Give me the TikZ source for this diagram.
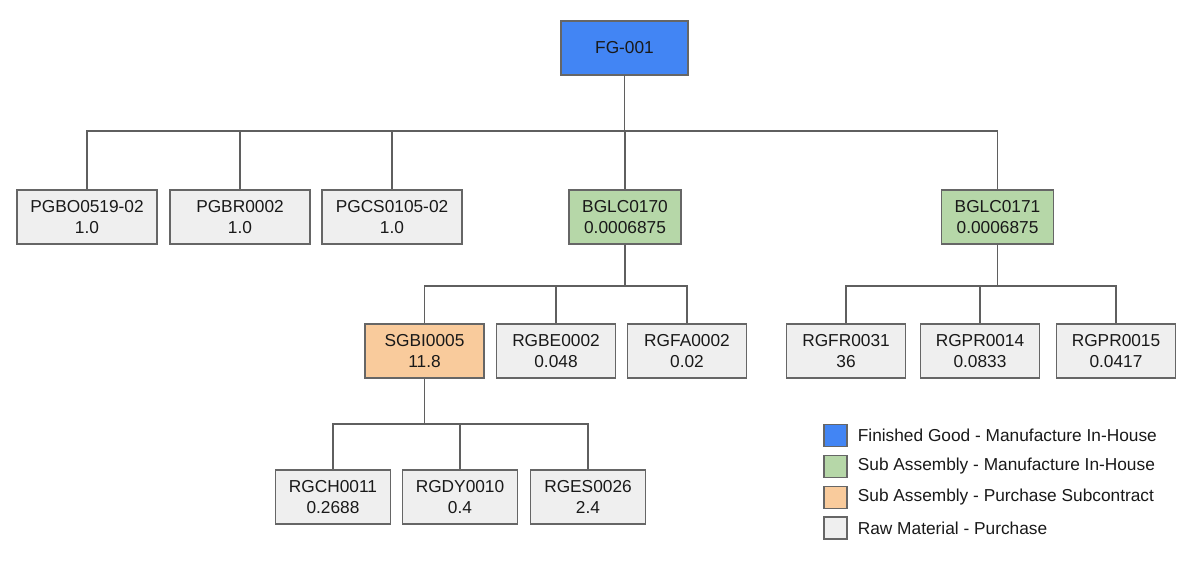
\documentclass[tikz,border=0pt]{standalone}
\usepackage{fontspec}
\setmainfont{Liberation Sans}
\usepackage{tikz}
\usetikzlibrary{positioning, calc}

\definecolor{fgblue}{HTML}{4285F4}
\definecolor{sagreen}{HTML}{B6D7A8}
\definecolor{scorange}{HTML}{F9CB9C}
\definecolor{rmgray}{HTML}{EFEFEF}
\definecolor{edgegray}{HTML}{666666}
\definecolor{linegray}{HTML}{5F5F5F}

\begin{document}
\begin{tikzpicture}[x=0.025cm, y=0.025cm,
    every node/.style={font=\fontsize{12.3}{14.5}\selectfont, text=black!90},
    part/.style={rectangle, draw=edgegray, line width=0.8pt, align=center,
                 minimum height=1.35cm, inner sep=0pt},
    fg/.style={part, fill=fgblue},
    subin/.style={part, fill=sagreen},
    subout/.style={part, fill=scorange},
    raw/.style={part, fill=rmgray},
    swatch/.style={rectangle, draw=edgegray, line width=0.8pt,
                   minimum width=0.575cm, minimum height=0.55cm, inner sep=0pt},
    link/.style={draw=linegray, line width=0.8pt}]
          \useasboundingbox (0,0) rectangle (1201,-563);

          % top level
          \node[fg, minimum width=3.175cm] (fg001) at (624.5,-48) {FG-001};

          % level 2
          \node[raw, minimum width=3.5cm] (pgbo) at (87,-217) {PGBO0519-02\\1.0};
          \node[raw, minimum width=3.5cm] (pgbr) at (240,-217) {PGBR0002\\1.0};
          \node[raw, minimum width=3.5cm] (pgcs) at (392,-217) {PGCS0105-02\\1.0};
          \node[subin, minimum width=2.8cm] (bglc0) at (625,-217) {BGLC0170\\0.0006875};
          \node[subin, minimum width=2.8cm] (bglc1) at (997.5,-217) {BGLC0171\\0.0006875};

          % level 3
          \node[subout, minimum width=2.975cm] (sgbi) at (424.5,-351) {SGBI0005\\11.8};
          \node[raw, minimum width=2.975cm] (rgbe) at (556,-351) {RGBE0002\\0.048};
          \node[raw, minimum width=2.975cm] (rgfa) at (687,-351) {RGFA0002\\0.02};
          \node[raw, minimum width=2.975cm] (rgfr) at (846,-351) {RGFR0031\\36};
          \node[raw, minimum width=2.975cm] (rgpr4) at (980,-351) {RGPR0014\\0.0833};
          \node[raw, minimum width=2.975cm] (rgpr5) at (1116,-351) {RGPR0015\\0.0417};

          % level 4
          \node[raw, minimum width=2.875cm] (rgch) at (333,-497) {RGCH0011\\0.2688};
          \node[raw, minimum width=2.875cm] (rgdy) at (460,-497) {RGDY0010\\0.4};
          \node[raw, minimum width=2.875cm] (rges) at (588,-497) {RGES0026\\2.4};

          % connectors
          \coordinate (bus0) at (624.5,-131);
          \coordinate (bus1) at (625,-286);
          \coordinate (bus2) at (997.5,-286);
          \coordinate (bus3) at (424.5,-424);
          \foreach \c in {pgbo,pgbr,pgcs,bglc0,bglc1}
            \draw[link] (fg001.south) -- (bus0) -| (\c.north);
          \foreach \c in {sgbi,rgbe,rgfa}
            \draw[link] (bglc0.south) -- (bus1) -| (\c.north);
          \foreach \c in {rgfr,rgpr4,rgpr5}
            \draw[link] (bglc1.south) -- (bus2) -| (\c.north);
          \foreach \c in {rgch,rgdy,rges}
            \draw[link] (sgbi.south) -- (bus3) -| (\c.north);

          % legend
          \node[swatch, fill=fgblue] (key1) at (835.5,-435.5) {};
          \node[swatch, fill=sagreen] (key2) at (835.5,-466.5) {};
          \node[swatch, fill=scorange] (key3) at (835.5,-497.5) {};
          \node[swatch, fill=rmgray] (key4) at (835.5,-528) {};
          \node[right=0.25cm of key1, inner sep=0pt] (lab1) {Finished Good - Manufacture In-House};
          \node[right=0.25cm of key2, inner sep=0pt] (lab2) {Sub Assembly - Manufacture In-House};
          \node[right=0.25cm of key3, inner sep=0pt] (lab3) {Sub Assembly - Purchase Subcontract};
          \node[right=0.25cm of key4, inner sep=0pt] (lab4) {Raw Material - Purchase};
      \end{tikzpicture}
\end{document}
